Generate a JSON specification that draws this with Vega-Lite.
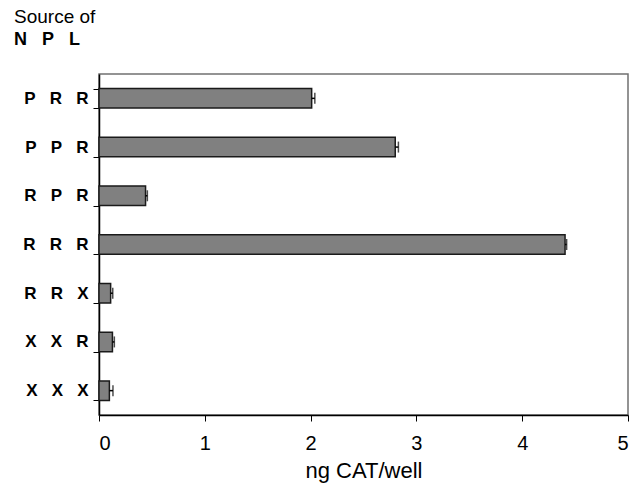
{
  "$schema": "https://vega.github.io/schema/vega-lite/v6.json",
  "width": 529,
  "height": 341,
  "autosize": {"type": "none"},
  "padding": {"left": 99, "top": 74, "right": 16, "bottom": 73},
  "background": "white",
  "config": {
    "font": "Liberation Sans",
    "view": {"stroke": "#707070", "strokeWidth": 1.5},
    "axis": {"grid": false, "domainColor": "black", "tickColor": "black", "labelColor": "black", "titleColor": "black", "labelFont": "Liberation Sans", "titleFont": "Liberation Sans"}
  },
  "title": {
    "text": "Source of",
    "subtitle": "\u00a0N\u00a0\u00a0\u00a0P\u00a0\u00a0\u00a0L",
    "anchor": "start",
    "frame": "group",
    "dx": -85,
    "offset": 16,
    "font": "Liberation Sans",
    "fontSize": 19,
    "fontWeight": "normal",
    "color": "black",
    "subtitleFont": "Liberation Sans",
    "subtitleFontSize": 18,
    "subtitleFontWeight": "bold",
    "subtitleColor": "black",
    "subtitlePadding": 4
  },
  "data": {
    "values": [
      {"combo": "P\u00a0\u00a0\u00a0R\u00a0\u00a0\u00a0R", "value": 2.01, "upper": 2.04},
      {"combo": "P\u00a0\u00a0\u00a0P\u00a0\u00a0\u00a0R", "value": 2.80, "upper": 2.83},
      {"combo": "R\u00a0\u00a0\u00a0P\u00a0\u00a0\u00a0R", "value": 0.44, "upper": 0.457},
      {"combo": "R\u00a0\u00a0\u00a0R\u00a0\u00a0\u00a0R", "value": 4.405, "upper": 4.42},
      {"combo": "R\u00a0\u00a0\u00a0R\u00a0\u00a0\u00a0X", "value": 0.11, "upper": 0.13},
      {"combo": "X\u00a0\u00a0\u00a0X\u00a0\u00a0\u00a0R", "value": 0.127, "upper": 0.145},
      {"combo": "X\u00a0\u00a0\u00a0X\u00a0\u00a0\u00a0X", "value": 0.098, "upper": 0.132}
    ]
  },
  "encoding": {
    "y": {
      "field": "combo",
      "type": "nominal",
      "sort": null,
      "scale": {"paddingInner": 0.6, "paddingOuter": 0.3},
      "axis": {
        "title": null,
        "labelFontSize": 17,
        "labelFontWeight": "bold",
        "labelPadding": 5,
        "tickSize": 6,
        "tickBand": "extent",
        "domainWidth": 1.5,
        "tickWidth": 1
      }
    }
  },
  "layer": [
    {
      "mark": {"type": "bar", "fill": "#808080", "stroke": "#1a1a1a", "strokeWidth": 1.5},
      "encoding": {
        "x": {
          "field": "value",
          "type": "quantitative",
          "scale": {"domain": [0, 5], "nice": false},
          "axis": {
            "title": "ng CAT/well",
            "values": [0, 1, 2, 3, 4, 5],
            "format": "d",
            "labelFontSize": 20,
            "titleFontSize": 22,
            "titleFontWeight": "normal",
            "tickSize": 6,
            "labelPadding": 12,
            "titlePadding": 7,
            "domainWidth": 1.5
          }
        }
      }
    },
    {
      "mark": {"type": "rule", "color": "black", "strokeWidth": 1.5},
      "encoding": {
        "x": {"field": "value", "type": "quantitative"},
        "x2": {"field": "upper"}
      }
    },
    {
      "mark": {"type": "tick", "color": "black", "thickness": 1.5, "size": 11, "orient": "vertical"},
      "encoding": {
        "x": {"field": "upper", "type": "quantitative"}
      }
    }
  ]
}
